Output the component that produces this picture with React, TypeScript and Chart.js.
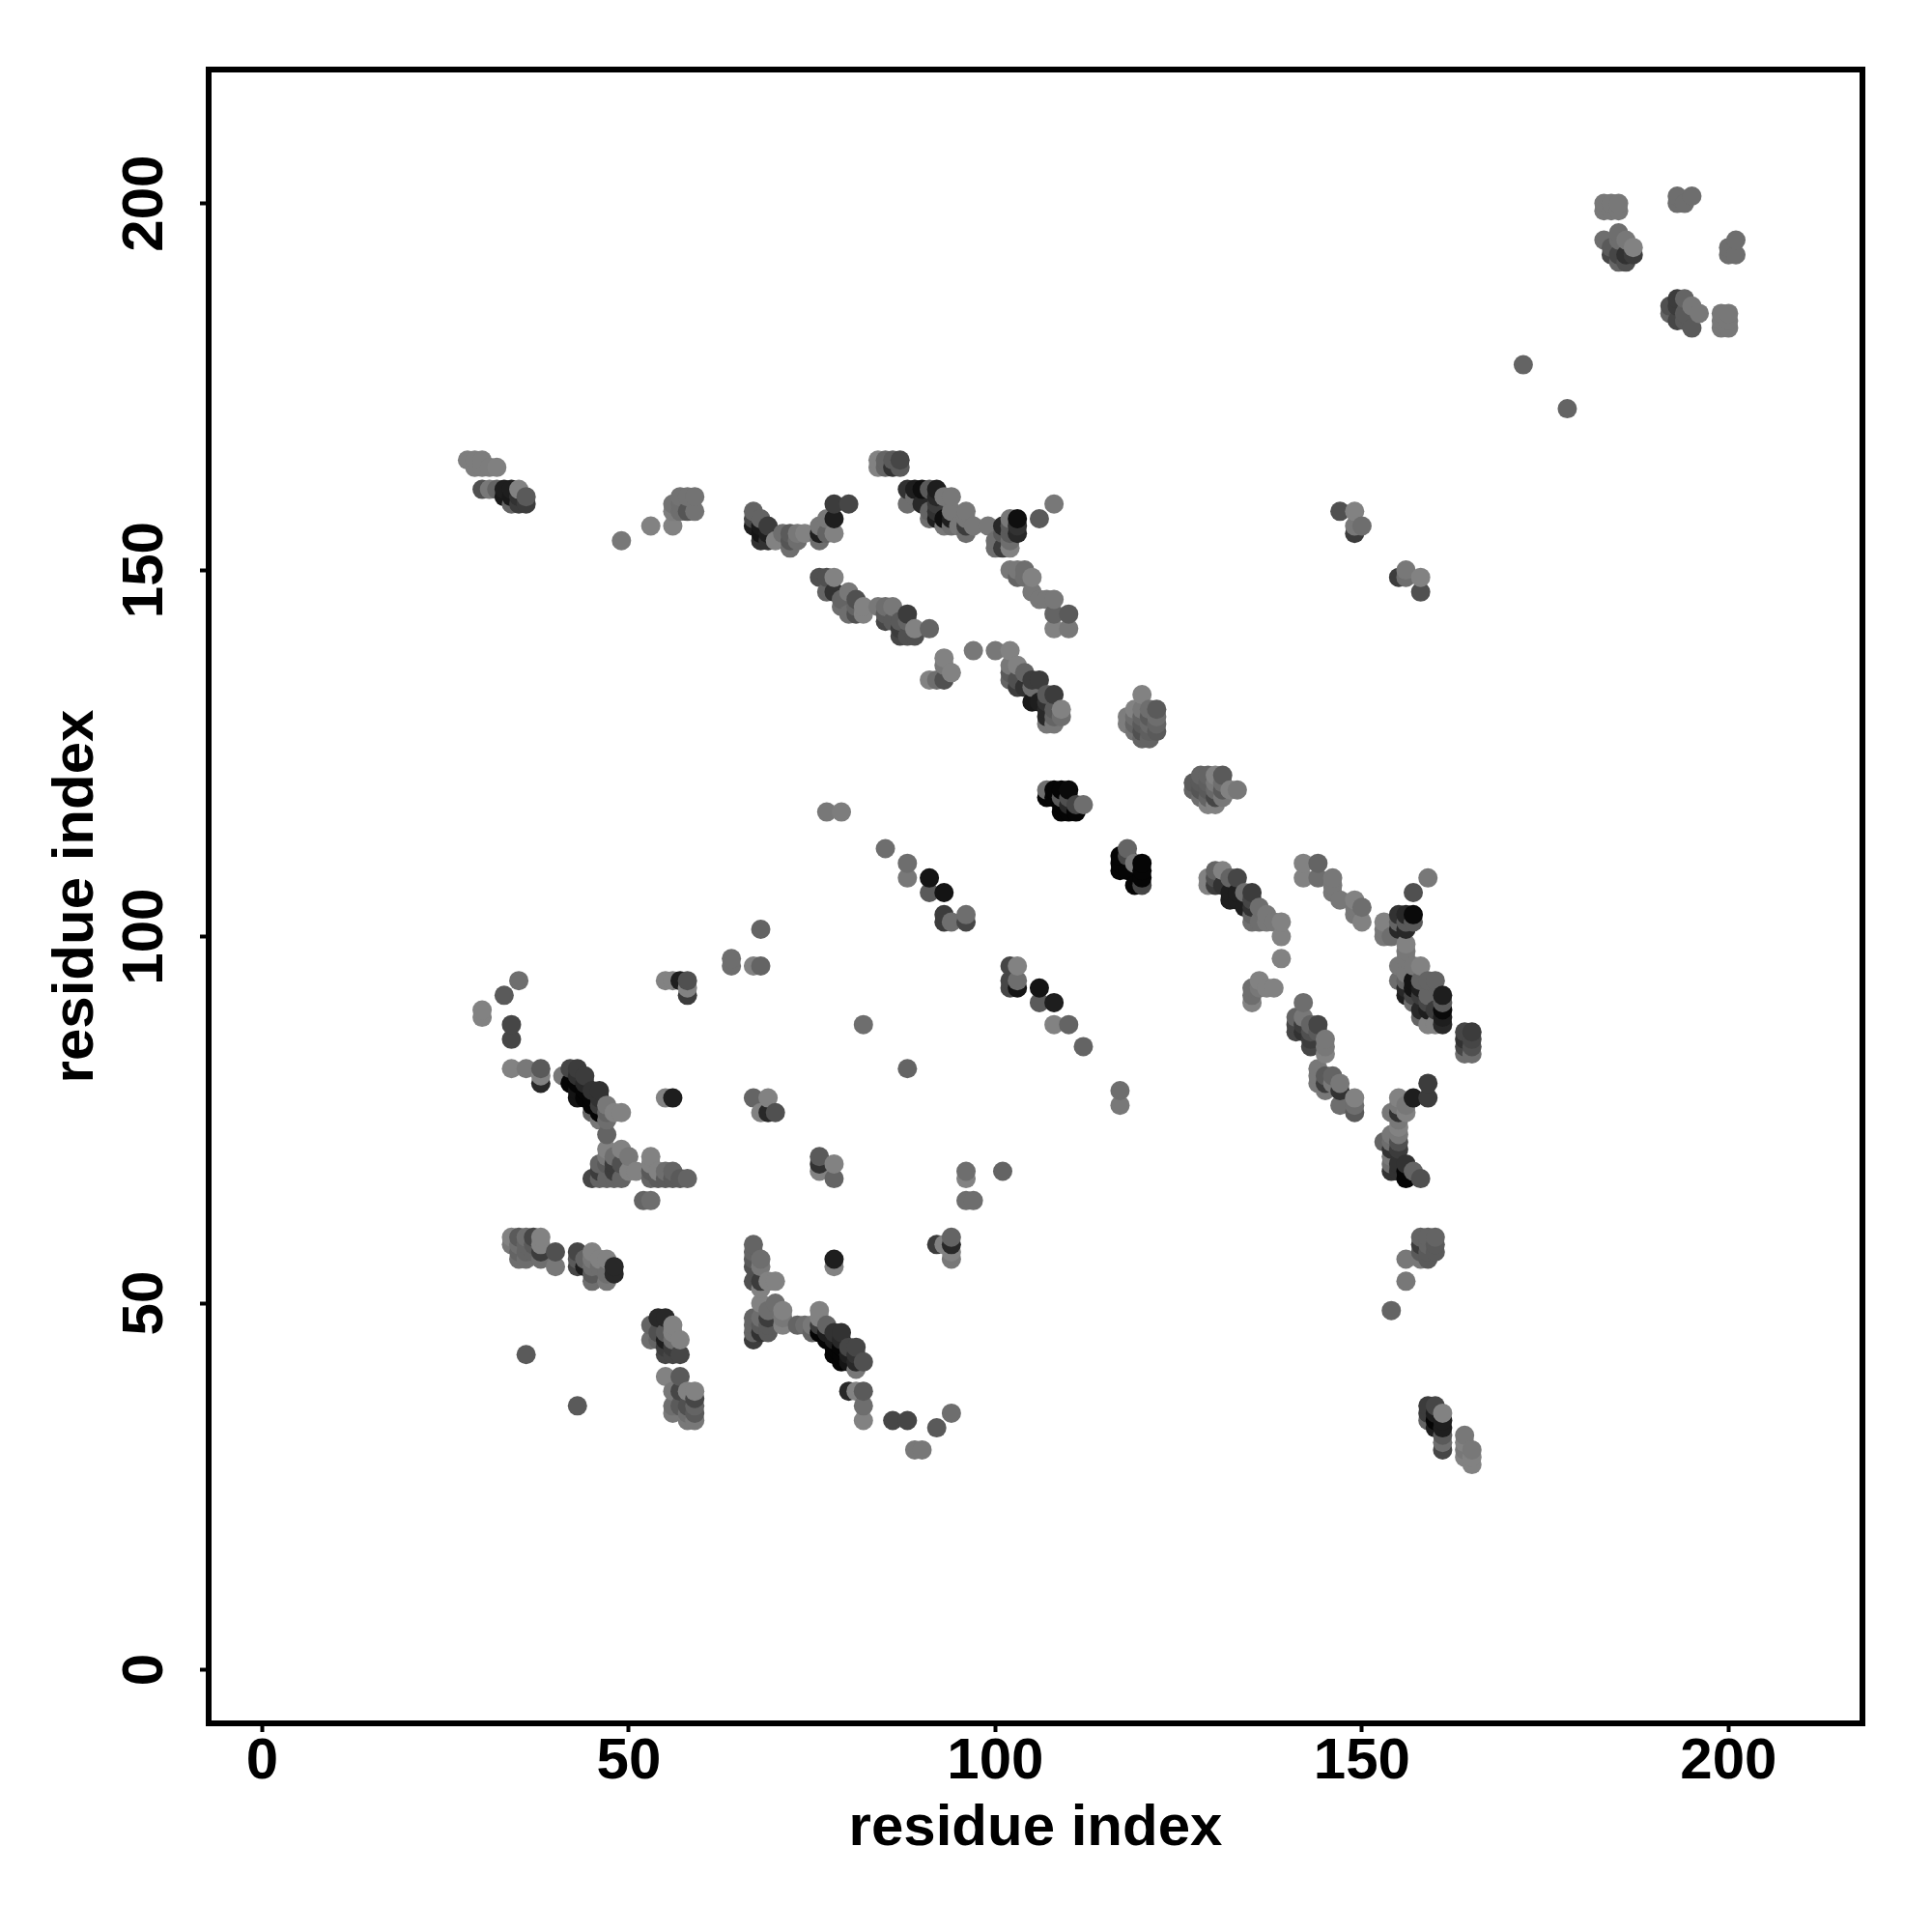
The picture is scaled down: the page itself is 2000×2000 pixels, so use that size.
import React, { useEffect, useRef } from "react";
import { Chart, registerables } from "chart.js";

Chart.register(...registerables);

// Each contact: [residue x, residue y, grey level]
const bandTopLeft = [[28,165,125],[29,165,125],[30,165,125],[29,164,125],[30,164,125],[31,164,125],[32,164,128],[30,161,80],[31,161,120],[32,161,100],[33,161,30],[34,161,30],[35,161,130],[33,160,25],[34,160,25],[35,160,50],[36,160,90],[34,159,100],[35,159,60],[36,159,60]];
const bandLoop = [[49,154,120],[53,156,130],[56,156,130],[57,160,115],[58,160,115],[59,160,115],[56,159,115],[57,159,110],[56,158,125],[57,158,110],[58,158,85],[59,158,115]];
const bandStrand = [[67,158,100],[68,157,100],[69,156,60],[67,157,70],[67,156,30],[68,156,25],[68,155,20],[69,155,30],[68,154,50],[69,154,50],[70,154,130],[71,155,110],[72,155,90],[73,155,120],[74,155,130],[72,154,85],[73,154,110],[72,153,110],[76,156,120],[77,157,120],[76,155,30],[76,154,110],[77,155,100],[78,155,130],[78,157,30],[78,159,60],[80,159,70]];
const bandTopMiddle = [[84,165,130],[84,164,130],[85,165,100],[85,164,100],[86,165,90],[86,164,50],[87,165,70],[87,164,90]];
const bandUpperDiag = [[88,161,50],[89,161,30],[90,161,15],[91,161,90],[92,161,30],[89,160,110],[92,160,40],[93,160,120],[94,160,120],[88,159,110],[90,159,40],[92,159,60],[91,158,100],[92,158,50],[94,158,120],[96,158,120],[91,157,110],[92,157,30],[93,157,15],[94,157,30],[96,157,120],[93,156,120],[94,156,110],[95,156,120],[96,156,60],[97,156,120],[99,156,120],[96,155,110],[100,154,110],[100,153,110],[101,156,40],[101,155,90],[101,153,60],[102,157,120],[102,156,90],[102,155,90],[102,154,110],[102,153,130],[103,157,15],[103,156,50],[103,155,40],[106,157,90],[108,159,120]];
const bandSecondDiag = [[102,150,120],[103,150,120],[104,150,110],[103,149,100],[104,149,110],[105,149,130],[105,147,120],[106,146,120],[107,146,120],[108,146,120],[108,144,100],[110,144,90],[108,142,130],[110,142,120]];
const bandThirdDiag = [[76,149,80],[77,149,80],[78,149,130],[77,147,100],[78,147,50],[80,147,120],[79,146,100],[81,146,80],[79,145,110],[81,145,100],[82,145,130],[80,144,110],[81,144,80],[82,144,130],[84,145,120],[85,145,110],[86,145,120],[85,144,90],[85,143,70],[86,143,90],[87,143,90],[87,142,60],[88,144,60],[88,143,100],[87,141,70],[88,141,80],[89,142,130],[89,141,80],[91,142,100],[93,138,130],[93,137,120],[94,136,130],[91,135,130],[92,135,110],[93,135,80]];
const bandFourthDiag = [[97,139,120],[100,139,120],[102,139,130],[102,137,120],[103,137,130],[104,136,100],[102,136,90],[102,135,100],[103,135,80],[105,135,60],[106,135,60],[103,134,60],[104,134,50],[105,134,110],[107,133,90],[108,133,60],[105,132,25],[106,132,30],[107,132,50],[109,131,130],[108,131,90],[107,131,40],[107,130,40],[108,130,100],[109,130,110],[107,129,120],[108,129,120]];
const bandCluster120 = [[120,133,130],[118,130,125],[118,129,125],[119,131,130],[119,130,110],[119,129,100],[119,128,115],[120,131,120],[120,130,100],[120,129,90],[120,128,80],[120,127,100],[121,131,110],[121,130,90],[121,129,105],[121,128,95],[121,127,100],[122,131,90],[122,130,110],[122,129,100],[122,128,90]];
const bandBlack119 = [[107,120,110],[108,120,5],[109,120,5],[110,120,10],[107,119,5],[108,119,5],[109,119,90],[110,119,80],[109,118,5],[110,118,40],[111,118,70],[112,118,110],[109,117,5],[110,117,5],[111,117,5]];
const bandCluster127 = [[128,122,100],[129,122,100],[130,122,130],[131,122,90],[127,121,90],[128,121,90],[129,121,95],[130,121,120],[131,121,110],[127,120,100],[128,120,85],[129,120,90],[130,120,105],[131,120,90],[132,120,130],[133,120,120],[128,119,110],[129,119,100],[130,119,70],[131,119,120],[129,118,130],[130,118,130]];
const bandRight = [[147,158,80],[149,158,130],[149,156,120],[150,156,110],[149,155,60],[155,149,60],[156,150,120],[156,149,110],[158,149,130],[158,147,80]];
const bandFar = [[172,178,100],[178,172,100],[183,200,120],[183,199,120],[184,200,120],[184,199,120],[185,200,120],[185,199,120],[183,195,110],[184,194,90],[184,193,70],[185,196,110],[185,195,110],[185,193,70],[185,192,100],[186,195,120],[186,193,50],[186,192,80],[187,194,130],[187,193,60],[193,201,110],[195,201,110],[193,200,110],[194,200,110],[201,195,110],[200,194,110],[200,193,110],[201,193,110],[192,186,80],[192,185,100],[193,187,60],[193,186,60],[193,184,70],[194,187,100],[194,185,90],[194,184,90],[195,186,120],[195,183,90],[196,185,120],[199,185,120],[199,184,120],[199,183,120],[200,185,120],[200,184,120],[200,183,120]];
const bandBlack110 = [[117,111,5],[117,110,5],[117,109,5],[118,112,100],[118,111,70],[118,109,5],[119,110,120],[119,107,5],[120,110,5],[120,109,5],[120,108,5],[120,107,70]];
const bandDiag105 = [[129,108,130],[129,107,130],[130,109,100],[130,108,80],[130,107,60],[131,109,130],[131,107,50],[132,108,100],[132,106,30],[132,105,30],[133,108,70],[133,106,30],[133,105,30],[134,106,110],[134,104,30],[135,106,60],[135,105,70],[135,104,50],[135,103,100],[135,102,110],[136,104,110],[136,102,110],[137,103,120],[137,102,120],[138,102,120],[139,102,130],[139,100,130],[139,97,130],[136,94,130],[135,93,110],[135,92,110],[135,91,130],[136,93,120],[137,93,130],[138,93,130]];
const bandDiag108 = [[142,110,130],[144,110,100],[142,108,130],[144,108,110],[146,108,120],[146,107,120],[146,106,120],[147,105,120],[149,105,130],[149,104,120],[149,103,120],[150,104,110],[150,102,130]];
const bandDiag100 = [[157,106,80],[159,108,120],[155,103,50],[156,103,40],[157,103,10],[153,102,130],[153,101,120],[153,100,120],[154,100,110],[155,102,100],[155,101,40],[156,102,90],[156,101,40],[157,102,90],[156,99,130],[156,98,120],[156,97,120],[155,96,120],[157,96,120],[158,96,130],[156,95,120],[155,94,110],[156,94,100],[156,93,40],[157,94,20],[157,93,20],[156,92,30],[157,92,70],[157,91,110],[158,94,100],[158,93,30],[158,92,60],[158,90,40],[158,89,100],[159,94,100],[159,92,100],[159,91,70],[159,90,30],[159,88,130],[160,94,100],[160,90,60],[160,88,130],[161,92,30],[161,91,90],[161,90,10],[161,89,30],[161,88,40]];
const bandStack165 = [[164,87,70],[164,86,50],[164,85,70],[164,84,110],[165,87,60],[165,86,70],[165,85,80],[165,84,110]];
const bandChain88 = [[142,91,110],[141,89,100],[141,88,70],[141,87,70],[142,89,120],[142,88,60],[142,87,50],[143,88,100],[143,87,80],[143,86,60],[143,85,70],[144,88,70],[144,87,90],[145,86,120],[145,85,120],[145,84,130],[144,82,120],[144,81,120],[144,80,120],[145,81,90],[145,80,60],[145,79,120],[146,81,100],[146,80,120],[147,80,120],[147,79,50],[147,77,110],[149,78,130],[149,77,110],[149,76,90]];
const bandChain72 = [[159,80,60],[157,78,30],[159,78,60],[155,78,130],[156,77,120],[155,77,120],[154,76,120],[155,76,50],[156,76,130],[155,75,120],[155,74,130],[154,73,120],[155,73,120],[153,72,100],[154,72,110],[155,72,80],[154,71,50],[155,71,60],[154,70,120],[154,69,110],[154,68,50],[155,69,50],[156,69,50],[155,68,50],[156,68,5],[156,67,5],[157,68,100],[158,67,80]];
const bandTail = [[106,93,20],[106,91,90],[108,91,30],[108,88,130],[110,88,100],[112,85,100],[117,79,110],[117,77,120],[102,96,70],[103,96,130],[102,94,70],[103,94,110],[102,93,70],[103,93,20],[91,108,20],[91,106,90],[93,106,20],[93,103,60],[93,102,60],[94,102,110],[96,103,110],[96,102,70],[88,110,110],[88,108,120],[85,112,110],[77,117,120],[79,117,125]];
const bandLeftScatter = [[68,101,100],[64,97,110],[64,96,110],[67,96,130],[68,96,100],[55,94,130],[56,94,130],[57,94,30],[58,94,80],[58,93,130],[58,92,60],[35,94,110],[33,92,90],[30,90,130],[30,89,130],[34,88,70],[34,86,70],[34,82,130],[36,82,120],[38,82,90],[38,81,130],[38,80,40]];
const bandDiag80 = [[41,81,120],[42,82,70],[43,82,60],[44,81,60],[43,81,50],[42,80,5],[43,80,5],[44,80,40],[43,79,20],[43,78,20],[44,79,5],[44,78,5],[45,79,50],[46,79,50],[45,78,5],[45,77,5],[46,78,50],[46,77,60],[45,76,100],[46,76,5],[47,77,120],[48,76,130],[49,76,130],[46,75,120],[47,75,110],[47,76,100],[47,73,100],[47,71,130],[49,71,130],[50,70,120],[47,70,120],[48,70,110],[46,69,100],[47,69,90],[48,69,60],[49,69,80],[46,68,60],[48,68,60],[50,68,130],[45,67,70],[46,67,100],[47,67,100],[48,67,100],[49,67,100],[51,68,130],[53,70,130],[53,69,130],[53,68,90],[53,67,100],[54,68,130],[55,68,110],[54,67,90],[55,67,90],[56,68,100],[56,67,90],[57,67,90],[58,67,100],[52,64,100],[53,64,110],[55,78,130],[56,78,30]];
const bandMiddleScatter = [[67,78,100],[69,78,130],[68,76,130],[69,76,40],[70,76,80],[82,88,110],[88,82,100],[76,70,90],[76,69,50],[78,69,130],[76,68,130],[78,67,100],[96,68,110],[96,67,130],[101,68,100],[96,64,110],[97,64,110]];
const bandRow58 = [[34,59,130],[34,58,120],[35,59,90],[35,58,110],[35,57,100],[35,56,110],[36,59,110],[36,58,100],[36,57,100],[36,56,110],[37,59,70],[37,58,90],[37,57,100],[38,59,130],[38,58,130],[38,57,60],[38,56,110],[40,57,80],[40,55,120],[43,57,70],[43,56,90],[43,55,70],[44,56,100],[44,55,30],[45,57,130],[45,56,120],[45,55,110],[45,54,90],[45,53,110],[46,56,130],[46,55,110],[47,56,130],[47,54,110],[47,53,120],[48,55,40],[48,54,40]];
const bandRow45 = [[54,48,40],[55,48,40],[53,47,100],[56,47,130],[53,45,110],[54,45,100],[54,46,80],[55,46,90],[55,45,30],[56,46,130],[57,45,130],[55,44,60],[55,43,70],[56,45,110],[56,44,60],[56,43,70],[57,43,70],[55,40,130],[57,40,90],[56,38,120],[57,38,70],[58,38,130],[59,38,130],[59,37,70],[56,36,110],[57,36,90],[58,36,80],[59,36,100],[56,35,120],[58,35,110],[59,35,90],[58,34,120],[59,34,120]];
const bandColumn67 = [[67,58,100],[67,57,100],[67,56,90],[67,55,80],[67,53,80],[68,56,110],[68,55,120],[68,53,60],[68,52,130],[68,50,130],[69,53,130],[70,53,130],[70,50,110],[69,49,110],[69,48,60],[71,49,130],[71,48,120],[67,48,100],[67,47,100],[67,46,100],[67,45,60],[68,48,110],[68,47,90],[68,46,50],[69,47,90],[69,46,90],[71,47,130],[73,47,100],[74,47,110]];
const bandDiag45 = [[76,49,130],[76,48,130],[75,47,120],[75,46,100],[76,47,60],[76,46,5],[77,47,100],[77,46,30],[77,45,5],[78,46,50],[79,46,50],[78,45,30],[78,44,5],[79,45,40],[79,44,5],[78,43,5],[79,43,5],[79,42,5],[80,44,70],[81,44,70],[80,43,30],[81,43,50],[80,42,20],[81,42,40],[82,42,80],[81,41,120],[80,38,40],[81,38,130],[82,38,90],[82,36,110],[82,34,130],[86,34,70],[88,34,70],[92,33,90],[94,35,110],[89,30,120],[90,30,120],[36,43,90],[43,36,90],[78,56,30],[78,55,130],[92,58,60],[93,58,130],[94,59,100],[94,58,40],[94,57,130],[94,56,120]];
const bandLowerRight = [[154,49,100],[156,53,120],[156,56,120],[158,59,100],[158,58,60],[158,57,90],[158,56,120],[159,59,100],[159,58,100],[159,57,90],[159,56,90],[160,59,100],[160,58,90],[160,57,90],[159,36,60],[160,36,70],[159,35,60],[159,34,100],[160,35,30],[160,34,5],[160,33,30],[161,35,130],[161,34,30],[161,33,30],[161,32,90],[161,31,110],[161,30,70],[164,32,120],[164,31,130],[164,30,120],[164,29,130],[165,30,120],[165,29,130],[165,28,130]];

const contactBands = [bandTopLeft, bandLoop, bandStrand, bandTopMiddle, bandUpperDiag, bandSecondDiag, bandThirdDiag, bandFourthDiag, bandCluster120, bandBlack119, bandCluster127, bandRight, bandFar, bandBlack110, bandDiag105, bandDiag108, bandDiag100, bandStack165, bandChain88, bandChain72, bandTail, bandLeftScatter, bandDiag80, bandMiddleScatter, bandRow58, bandRow45, bandColumn67, bandDiag45, bandLowerRight];

const tickValues = [0, 50, 100, 150, 200];
const axisLabel = "residue index";
const FONT = "'Liberation Sans', Arial, sans-serif";

const contacts = contactBands.flat().sort((a, b) => a[0] - b[0] || a[1] - b[1]);

export default function App() {
  const ref = useRef<HTMLCanvasElement | null>(null);
  useEffect(() => {
    const frame = {
      id: "frame",
      afterDraw(chart: any) {
        const { ctx, chartArea: a } = chart;
        ctx.save();
        ctx.strokeStyle = "#000";
        ctx.lineWidth = 6;
        ctx.strokeRect(a.left, a.top, a.right - a.left, a.bottom - a.top);
        ctx.restore();
      },
    };
    const setTicks = (s: any) => {
      s.ticks = tickValues.map((value) => ({ value }));
    };
    const grid = { drawOnChartArea: false, drawTicks: true, tickLength: 9, tickWidth: 4, tickColor: "#000" };
    const chart = new Chart(ref.current!, {
      type: "scatter",
      data: {
        datasets: [
          {
            data: contacts.map((c) => ({ x: c[0], y: c[1] })),
            pointRadius: 10,
            pointHoverRadius: 10,
            pointBorderWidth: 0,
            pointBackgroundColor: contacts.map((c) => `rgb(${c[2]},${c[2]},${c[2]})`),
          },
        ],
      },
      plugins: [frame],
      options: {
        animation: false,
        responsive: false,
        devicePixelRatio: 1,
        layout: { padding: { top: 72, right: 72, left: 0, bottom: 0 } },
        plugins: { legend: { display: false }, tooltip: { enabled: false } },
        scales: {
          x: {
            type: "linear",
            min: -7.3,
            max: 218.26,
            afterBuildTicks: setTicks,
            afterFit: (s: any) => {
              s.height = 216;
            },
            grid,
            border: { display: false },
            ticks: { color: "#000", padding: -5, maxRotation: 0, font: { family: FONT, size: 60, weight: "bold" } },
            title: { display: true, text: axisLabel, color: "#000", padding: { top: 0, bottom: 71 }, font: { family: FONT, size: 60, weight: "bold" } },
          },
          y: {
            type: "linear",
            min: -7.3,
            max: 218.26,
            afterBuildTicks: setTicks,
            afterFit: (s: any) => {
              s.width = 216;
            },
            grid,
            border: { display: false },
            ticks: { color: "#000", padding: 5, minRotation: 90, maxRotation: 90, crossAlign: "center", font: { family: FONT, size: 60, weight: "bold" } },
            title: { display: true, text: axisLabel, color: "#000", padding: { top: 43, bottom: 0 }, font: { family: FONT, size: 60, weight: "bold" } },
          },
        },
      },
    } as any);
    return () => chart.destroy();
  }, []);
  return (
    <div style={{ position: "absolute", left: 0, top: 0, width: 2000, height: 2000, background: "#fff" }}>
      <canvas ref={ref} width={2000} height={2000} style={{ display: "block", width: 2000, height: 2000 }} />
    </div>
  );
}
